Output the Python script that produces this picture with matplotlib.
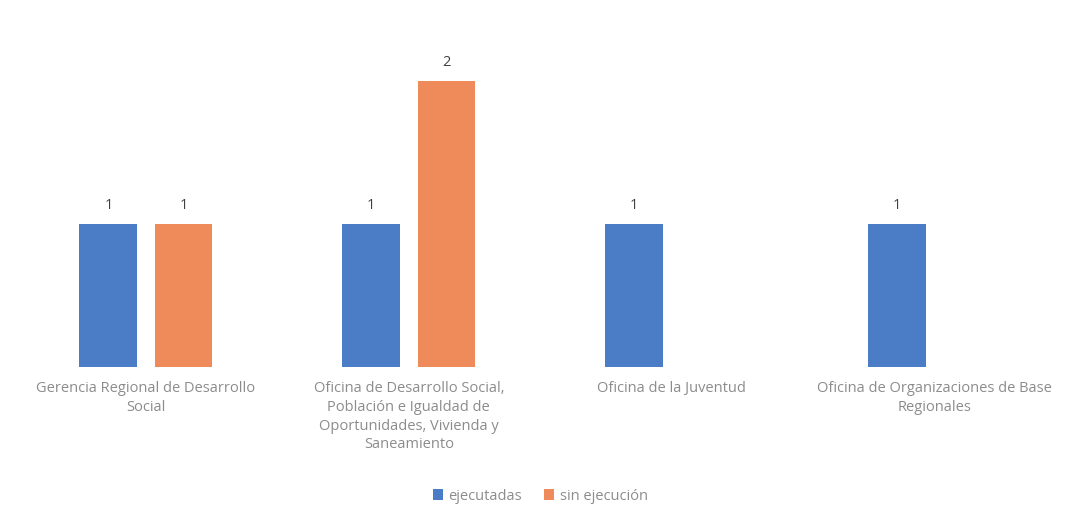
import numpy as np
import matplotlib
matplotlib.use("Agg")
import matplotlib.pyplot as plt

# Datos del gráfico
categorias = [
    "Gerencia Regional de Desarrollo\nSocial",
    "Oficina de Desarrollo Social,\nPoblación e Igualdad de\nOportunidades, Vivienda y\nSaneamiento",
    "Oficina de la Juventud",
    "Oficina de Organizaciones de Base\nRegionales",
]
ejecutadas = [1, 1, 1, 1]
sin_ejecucion = [1, 2, None, None]

color_azul = "#4A7DC6"
color_naranja = "#EF8A5B"
color_texto = "#8C8C8C"

plt.rcParams['font.family'] = ['Open Sans', 'DejaVu Sans']

fig = plt.figure(figsize=(10.83, 5.24), dpi=100)
ax = fig.add_axes([0.0134, 0.2996, 0.971, 0.627])

x = np.arange(len(categorias))
ancho = 0.22
desp = 0.143

barras1 = ax.bar(x - desp, ejecutadas, ancho, color=color_azul, label="ejecutadas")
xs2 = [xi + desp for xi, v in zip(x, sin_ejecucion) if v is not None]
vs2 = [v for v in sin_ejecucion if v is not None]
barras2 = ax.bar(xs2, vs2, ancho, color=color_naranja, label="sin ejecución")

# Etiquetas de valores
for b in list(barras1) + list(barras2):
    ax.annotate(f"{int(b.get_height())}", (b.get_x() + b.get_width() / 2, b.get_height()),
                xytext=(0, 8), textcoords="offset points", ha="center", va="bottom",
                fontsize=10.5, color="#404040")

ax.set_xlim(-0.5, len(categorias) - 0.5)
ax.set_ylim(0, 2.3)
ax.set_xticks(x)
ax.set_xticklabels(categorias, fontsize=10.5, color=color_texto, linespacing=1.35)
ax.tick_params(axis="x", length=0, pad=10)
ax.set_yticks([])
for s in ax.spines.values():
    s.set_visible(False)

ax.legend(loc="upper center", bbox_to_anchor=(0.5, -0.33), ncol=2, frameon=False,
          fontsize=10.5, labelcolor=color_texto, handlelength=0.7, handleheight=0.7,
          handletextpad=0.4, columnspacing=1.5)

fig.savefig("out.png", dpi=100)
